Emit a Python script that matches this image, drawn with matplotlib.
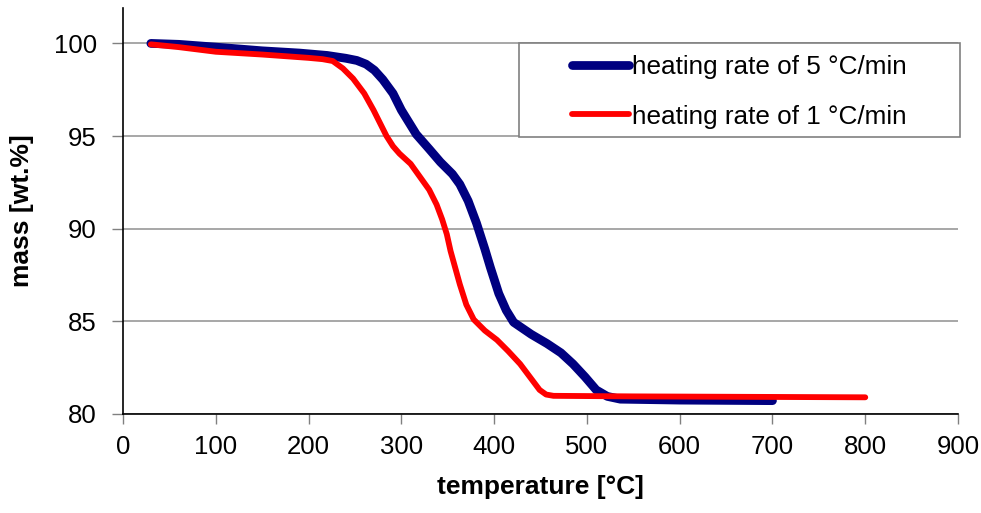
import matplotlib
matplotlib.use('Agg')
import matplotlib.pyplot as plt
from matplotlib.patches import Rectangle

plt.rcParams['font.family'] = ['Liberation Sans', 'DejaVu Sans']

# heating rate 5 C/min
t_5 = [30, 60, 100, 150, 190, 220, 240, 252, 262, 271, 280, 291, 300, 316, 330,
       342, 355, 363, 372, 381, 390, 396, 405, 413, 421, 440, 457, 472, 485, 498,
       510, 522, 536, 600, 700]
m_5 = [100.0, 99.95, 99.8, 99.6, 99.48, 99.35, 99.2, 99.08, 98.88, 98.55, 98.05,
       97.3, 96.4, 95.1, 94.3, 93.6, 92.95, 92.4, 91.5, 90.3, 88.9, 87.9, 86.5,
       85.6, 84.95, 84.3, 83.8, 83.3, 82.7, 82.0, 81.3, 80.95, 80.8, 80.75, 80.72]

# heating rate 1 C/min
t_1 = [30, 60, 100, 150, 200, 215, 226, 237, 248, 260, 270, 277, 284, 291, 298,
       310, 320, 330, 338, 344, 349, 353, 358, 363, 370, 378, 390, 403, 415, 428,
       440, 449, 456, 464, 550, 650, 800]
m_1 = [99.95, 99.8, 99.55, 99.4, 99.22, 99.15, 99.05, 98.65, 98.1, 97.3, 96.4, 95.7,
       95.0, 94.45, 94.05, 93.5, 92.8, 92.1, 91.3, 90.5, 89.7, 88.8, 87.9, 87.0,
       85.9, 85.1, 84.5, 84.0, 83.4, 82.7, 81.9, 81.3, 81.05, 80.98, 80.95, 80.93,
       80.9]

labels = ['heating rate of 5 °C/min', 'heating rate of 1 °C/min']
xticks = list(range(0, 901, 100))
yticks = [80, 85, 90, 95, 100]

fig = plt.figure(figsize=(9.81, 5.13), dpi=100)
ax = fig.add_axes([0.1254, 0.193, 0.8512, 0.791])

l5, = ax.plot(t_5, m_5, color='#000080', lw=6.3, solid_capstyle='round',
              solid_joinstyle='round', zorder=3)
l1, = ax.plot(t_1, m_1, color='#ff0000', lw=4.2, solid_capstyle='round',
              solid_joinstyle='round', zorder=4)

ax.set_xlim(0, 900)
ax.set_ylim(80, 101.9)
ax.set_xticks(xticks)
ax.set_yticks(yticks)
ax.grid(axis='y', color='#a0a0a0', lw=1.3, zorder=0)
for s in ['top', 'right']:
    ax.spines[s].set_visible(False)
for s in ['left', 'bottom']:
    ax.spines[s].set_linewidth(1.2)
    ax.spines[s].set_zorder(5)
ax.tick_params(axis='y', direction='out', length=8, width=1, color='#808080',
               labelsize=18.5, pad=11)
ax.tick_params(axis='x', direction='out', length=7, width=1, color='#808080',
               labelsize=18.5, pad=8)

ax.set_xlabel('temperature [°C]', fontsize=19, fontweight='bold', labelpad=12)
ax.set_ylabel('mass [wt.%]', fontsize=19, fontweight='bold', labelpad=14)

# legend box
box = Rectangle((0.474, 0.682), 0.528, 0.232, transform=ax.transAxes,
                facecolor='white', edgecolor='#808080', lw=1.2, clip_on=False, zorder=6)
ax.add_patch(box)
leg = ax.legend([l5, l1], labels, loc='center', bbox_to_anchor=(0.474, 0.678, 0.528, 0.232),
                frameon=False, fontsize=18.8, handlelength=2.2, handletextpad=0.1,
                labelspacing=0.98, borderpad=0)
leg.set_zorder(7)

fig.savefig('out.png', dpi=100)
